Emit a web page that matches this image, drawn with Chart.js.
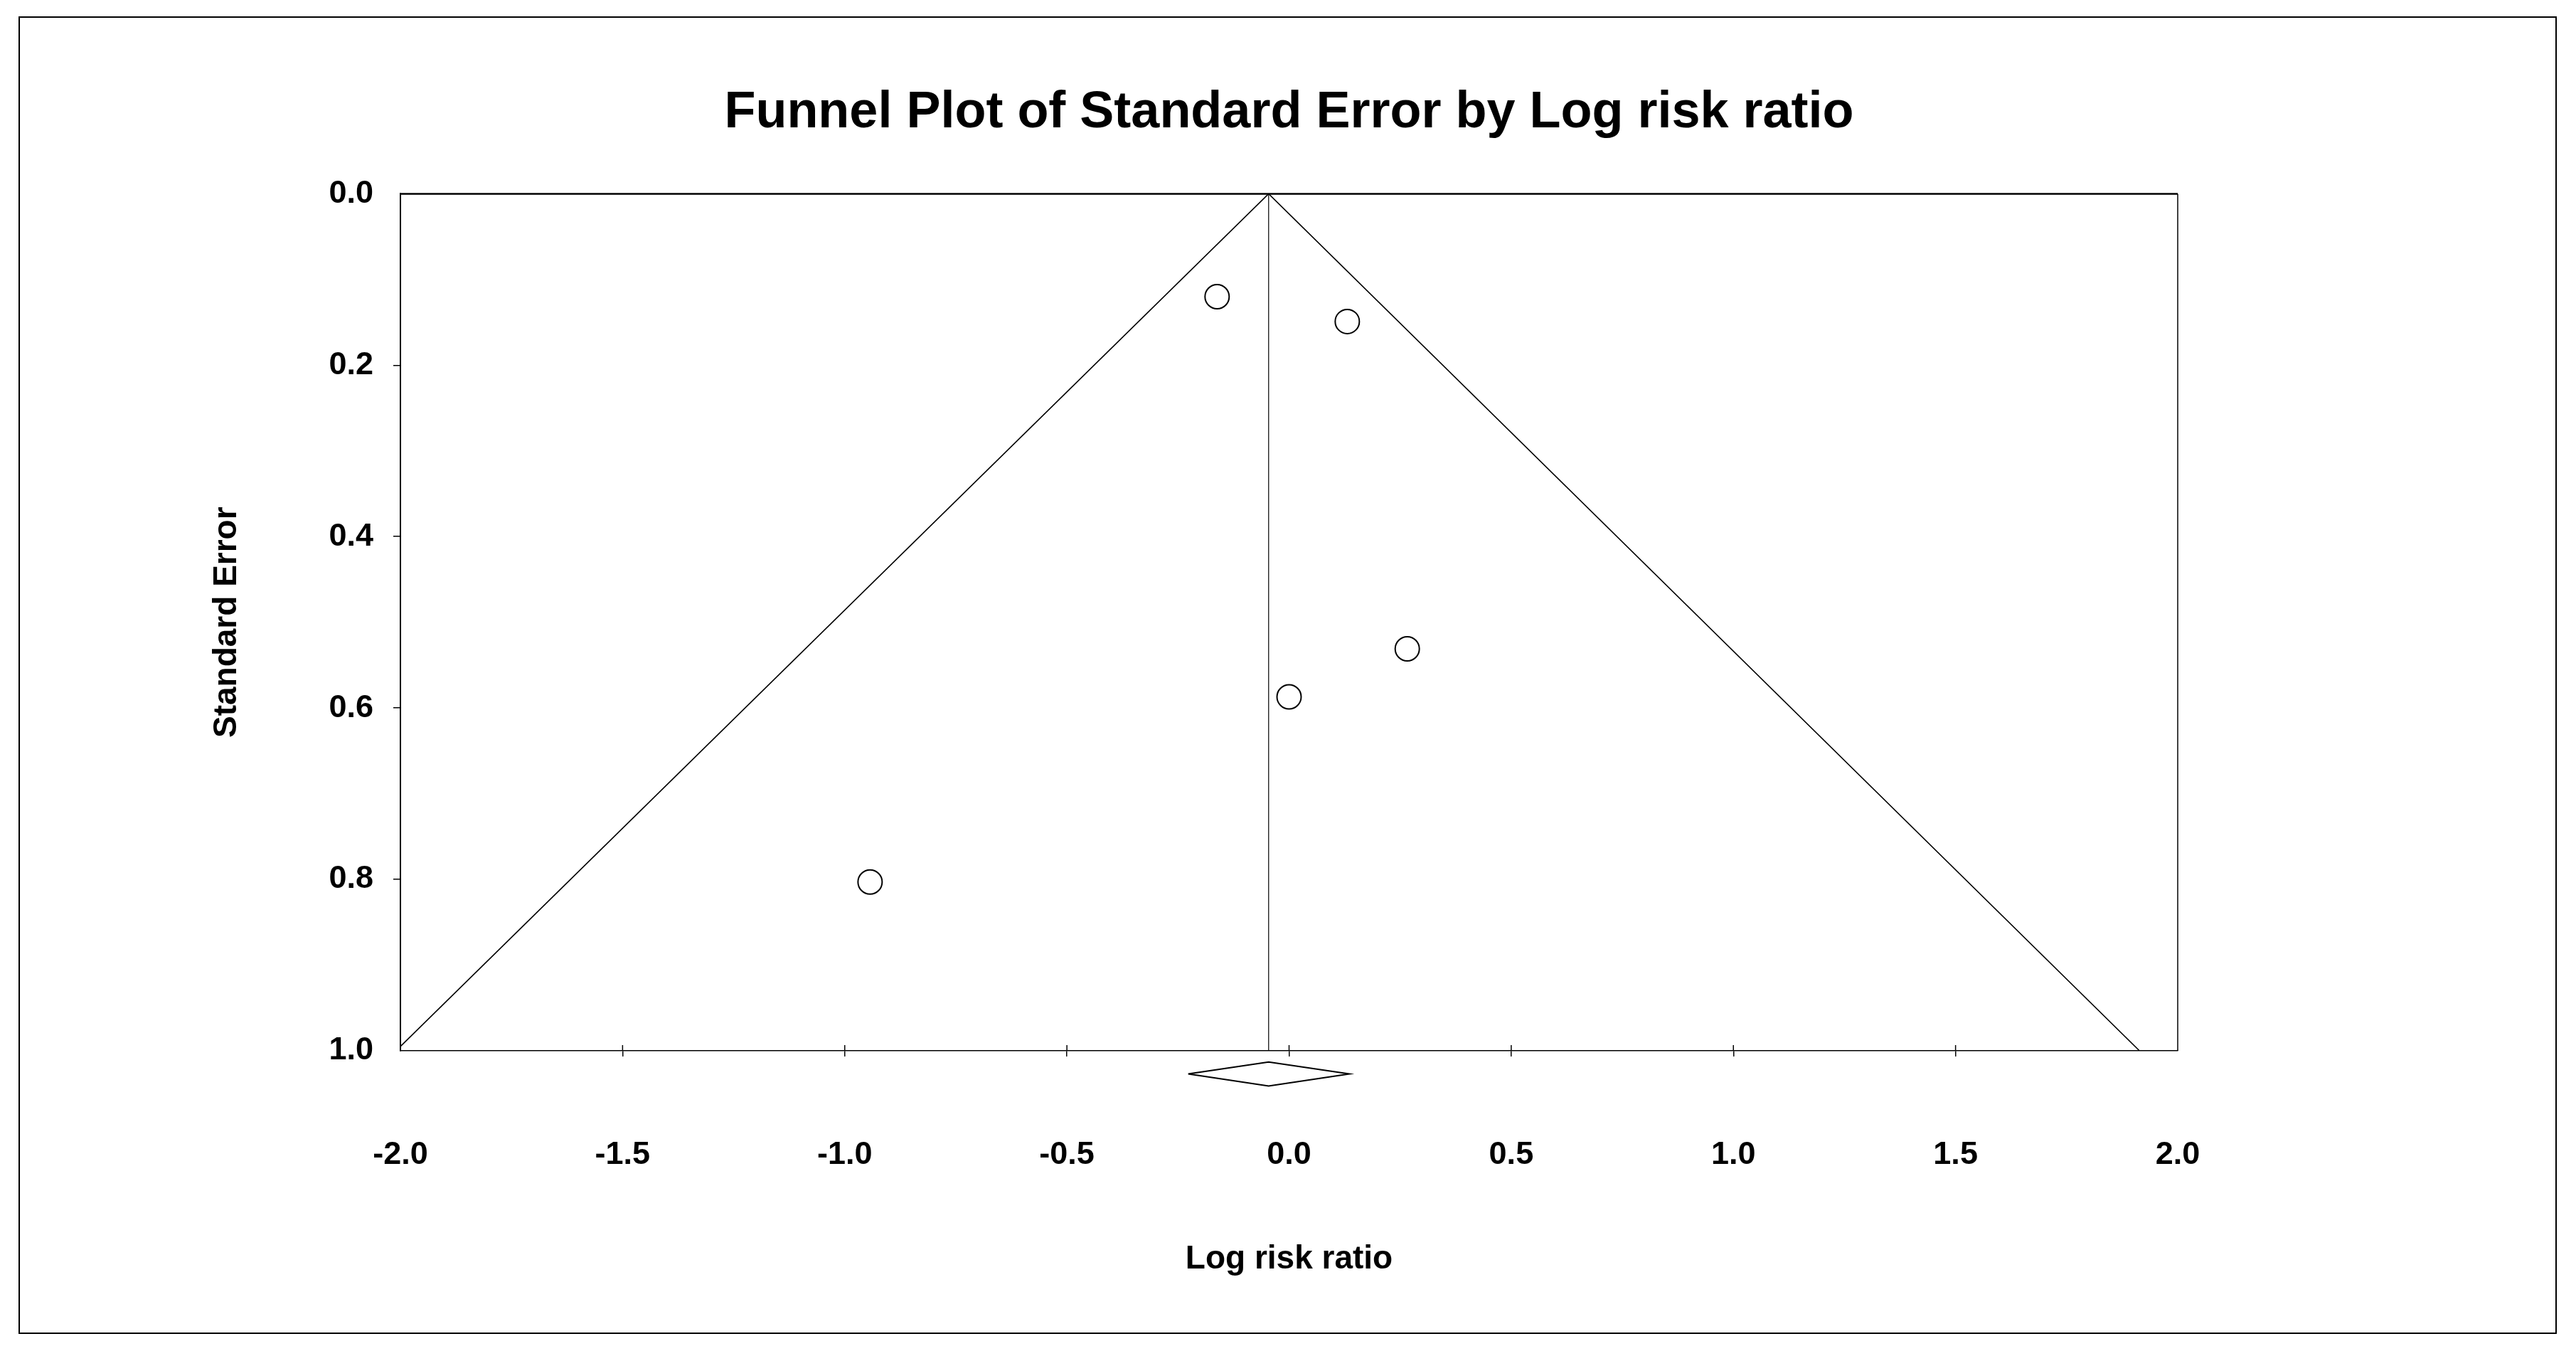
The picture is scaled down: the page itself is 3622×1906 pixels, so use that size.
<!DOCTYPE html>
<html>
<head>
<meta charset="utf-8">
<title>Funnel Plot of Standard Error by Log risk ratio</title>
<script src="https://cdn.jsdelivr.net/npm/chart.js@4.4.1/dist/chart.umd.min.js"></script>
<style>
    html, body { margin: 0; padding: 0; background: #fff; }
    canvas { display: block; }
</style>
</head>
<body>
<canvas id="funnel" width="3622" height="1906"></canvas>
<script>
// studies (log risk ratio vs standard error)
const studyLogRR = [-0.162, 0.131, 0.266, 0.0, -0.943];
const studySE = [0.120, 0.149, 0.531, 0.587, 0.803];

// pooled estimate and its confidence interval (the diamond)
const pooledLogRR = -0.046;
const diamondX = [-0.227, -0.046, 0.136, -0.046, -0.227];
const diamondY = [1.027, 1.013, 1.027, 1.041, 1.027];

// pseudo 95% limits as drawn
const funnelX = [-2.0, -0.046, 1.914];
const funnelY = [0.995, 0.0, 1.0];
const pooledLineY = [0.0, 1.0];

const xTicks = [-2.0, -1.5, -1.0, -0.5, 0.0, 0.5, 1.0, 1.5, 2.0];
const yTicks = [0.0, 0.2, 0.4, 0.6, 0.8, 1.0];

const FONT = 'Liberation Sans, Arial, Helvetica, sans-serif';

const toPoints = (xs, ys) => xs.map((x, i) => ({x, y: ys[i]}));

const lineStyle = {
    showLine: true,
    pointRadius: 0,
    pointHoverRadius: 0,
    borderColor: '#000',
    backgroundColor: 'rgba(0,0,0,0)',
    fill: false,
    tension: 0
};

const framePlugin = {
    id: 'frame',
    beforeDraw(chart) {
        const ctx = chart.ctx;
        ctx.save();
        ctx.fillStyle = '#fff';
        ctx.fillRect(0, 0, chart.width, chart.height);
        ctx.strokeStyle = '#000';
        ctx.lineWidth = 2;
        ctx.strokeRect(27, 24, chart.width - 55, chart.height - 56);
        ctx.restore();
    },
    afterDraw(chart) {
        const {ctx, chartArea} = chart;
        const xScale = chart.scales.x;
        ctx.save();
        ctx.strokeStyle = '#000';
        ctx.lineWidth = 2.5;
        ctx.beginPath();
        ctx.moveTo(chartArea.left, chartArea.top);
        ctx.lineTo(chartArea.right, chartArea.top);
        ctx.stroke();
        ctx.lineWidth = 1.5;
        ctx.beginPath();
        ctx.moveTo(chartArea.right, chartArea.top);
        ctx.lineTo(chartArea.right, chartArea.bottom);
        ctx.stroke();
        // x ticks cross the axis, add the part inside the plot
        xScale.ticks.forEach(t => {
            if (t.value <= xTicks[0] || t.value >= xTicks[xTicks.length - 1]) return;
            const px = xScale.getPixelForValue(t.value);
            ctx.beginPath();
            ctx.moveTo(px, chartArea.bottom - 8);
            ctx.lineTo(px, chartArea.bottom);
            ctx.stroke();
        });
        ctx.restore();
    }
};

const options = {
    responsive: false,
    animation: false,
    layout: {
        padding: {left: 0, right: 560, top: 0, bottom: 0}
    },
    plugins: {
        legend: {display: false},
        tooltip: {enabled: false},
        title: {
            display: true,
            text: 'Funnel Plot of Standard Error by Log risk ratio',
            color: '#000',
            fullSize: false,
            font: {family: FONT, size: 72, weight: 'bold'},
            padding: {top: 116, bottom: 70}
        }
    },
    scales: {
        x: {
            type: 'linear',
            min: xTicks[0],
            max: xTicks[xTicks.length - 1],
            afterBuildTicks: (scale) => {
                scale.ticks = xTicks.map(v => ({value: v}));
            },
            afterFit: (scale) => {
                scale.height = 429;
            },
            ticks: {
                color: '#000',
                font: {family: FONT, size: 45, weight: 'bold'},
                padding: 112,
                maxRotation: 0,
                callback: (v) => Number(v).toFixed(1)
            },
            grid: {
                drawOnChartArea: false,
                drawTicks: true,
                tickLength: 8,
                lineWidth: 1.5,
                color: (c) => (c.tick && (c.tick.value <= xTicks[0] || c.tick.value >= xTicks[xTicks.length - 1])) ? 'rgba(0,0,0,0)' : '#000'
            },
            border: {display: true, color: '#000', width: 1.5},
            title: {
                display: true,
                text: 'Log risk ratio',
                color: '#000',
                font: {family: FONT, size: 46, weight: 'bold'},
                padding: {top: 0, bottom: 108}
            }
        },
        y: {
            type: 'linear',
            reverse: true,
            min: yTicks[0],
            max: yTicks[yTicks.length - 1],
            afterBuildTicks: (scale) => {
                scale.ticks = yTicks.map(v => ({value: v}));
            },
            afterFit: (scale) => {
                scale.width = 563;
            },
            ticks: {
                color: '#000',
                font: {family: FONT, size: 45, weight: 'bold'},
                padding: 28,
                callback: (v) => Number(v).toFixed(1)
            },
            grid: {
                drawOnChartArea: false,
                drawTicks: true,
                tickLength: 10,
                lineWidth: 1.5,
                color: (c) => (c.tick && (c.tick.value <= yTicks[0] || c.tick.value >= yTicks[yTicks.length - 1])) ? 'rgba(0,0,0,0)' : '#000'
            },
            border: {display: true, color: '#000', width: 2},
            title: {
                display: true,
                text: 'Standard Error',
                color: '#000',
                font: {family: FONT, size: 46, weight: 'bold'},
                padding: {top: 292, bottom: 0}
            }
        }
    }
};

new Chart(document.getElementById('funnel'), {
    type: 'scatter',
    data: {
        datasets: [
            {
                label: 'Studies',
                data: toPoints(studyLogRR, studySE),
                pointStyle: 'circle',
                pointRadius: 17,
                pointHoverRadius: 17,
                pointBorderWidth: 2,
                pointBorderColor: '#000',
                pointBackgroundColor: '#fff',
                showLine: false
            },
            {
                label: 'Funnel',
                data: toPoints(funnelX, funnelY),
                ...lineStyle,
                borderWidth: 1.6
            },
            {
                label: 'Pooled',
                data: toPoints([pooledLogRR, pooledLogRR], pooledLineY),
                ...lineStyle,
                borderWidth: 1.2
            },
            {
                label: 'Summary',
                data: toPoints(diamondX, diamondY),
                ...lineStyle,
                borderWidth: 2,
                clip: false
            }
        ]
    },
    options,
    plugins: [framePlugin]
});
</script>
</body>
</html>
